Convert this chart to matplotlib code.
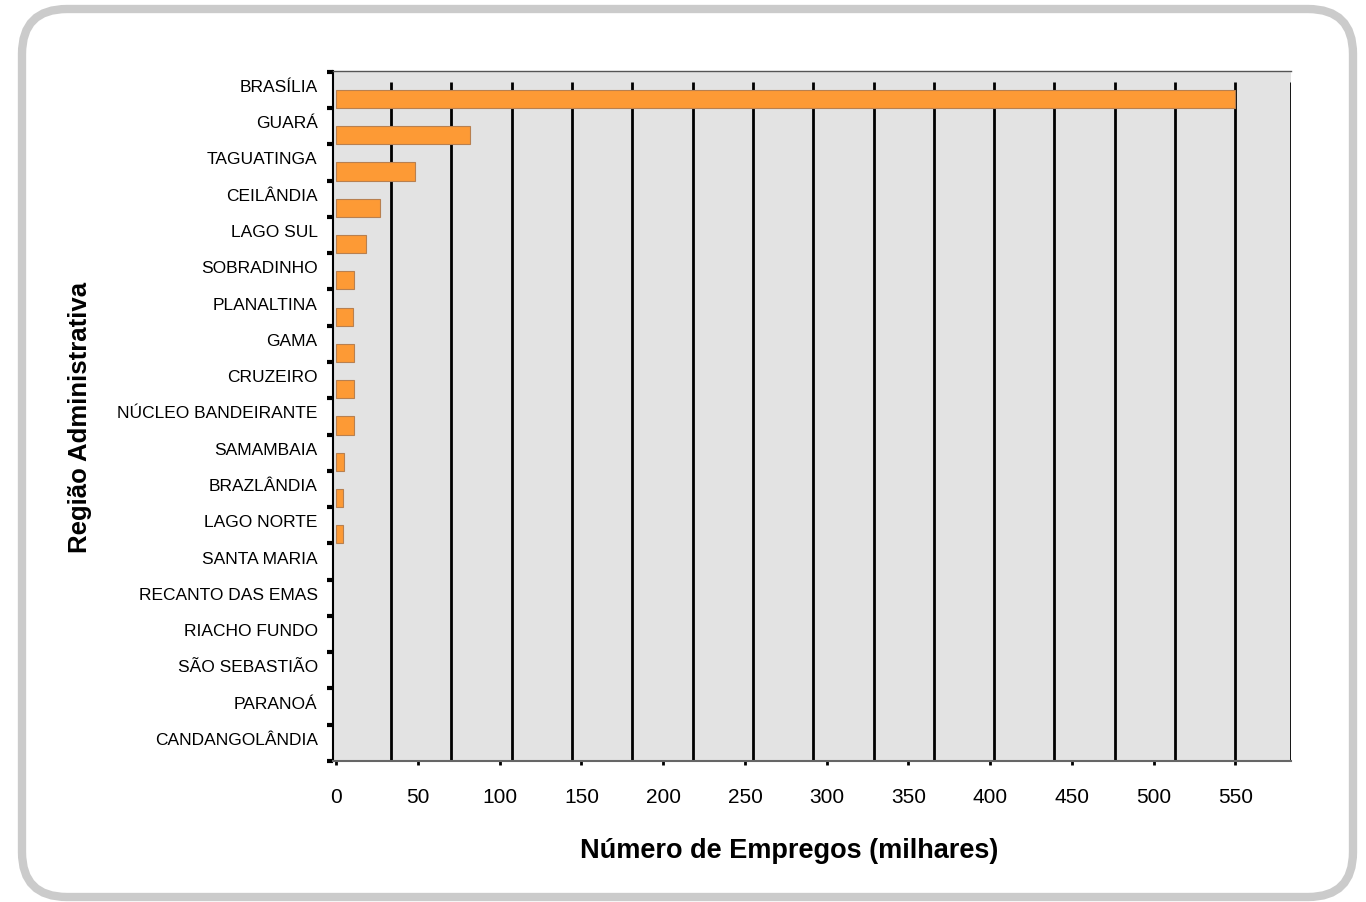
import numpy as np
import matplotlib
matplotlib.use("Agg")
import matplotlib.pyplot as plt
from matplotlib.patches import FancyBboxPatch
from matplotlib.transforms import ScaledTranslation

plt.rcParams['font.family'] = ['Liberation Sans', 'DejaVu Sans']

# 資料
regioes = ["BRASÍLIA", "GUARÁ", "TAGUATINGA", "CEILÂNDIA", "LAGO SUL",
           "SOBRADINHO", "PLANALTINA", "GAMA", "CRUZEIRO", "NÚCLEO BANDEIRANTE",
           "SAMAMBAIA", "BRAZLÂNDIA", "LAGO NORTE", "SANTA MARIA",
           "RECANTO DAS EMAS", "RIACHO FUNDO", "SÃO SEBASTIÃO", "PARANOÁ",
           "CANDANGOLÂNDIA"]
empregos = [550, 82, 48, 27, 18, 11, 10, 11, 11, 11, 5, 4, 4, 0, 0, 0, 0, 0, 0]
x_ticks = list(range(0, 551, 50))

fig = plt.figure(figsize=(13.66, 9.03), dpi=100)
fig.patch.set_facecolor('white')

# 外框 (圓角灰色)
frame = FancyBboxPatch((0.22, 0.05), 13.31, 8.88,
                       boxstyle="round,pad=0,rounding_size=0.45",
                       transform=fig.dpi_scale_trans, facecolor='none',
                       edgecolor='#cbcbcb', linewidth=6.0, zorder=-1)
fig.patches.append(frame)

ax = fig.add_axes([333 / 1366, 1 - 762 / 903, 958 / 1366, 690 / 903])
ax.set_facecolor('#e3e3e3')

y = np.arange(len(regioes))
# 數值為 0 的長條不畫邊框
edge_w = [0.8 if v > 0 else 0 for v in empregos]
ax.barh(y, empregos, height=0.5, color='#fd9a35', edgecolor='#b88050',
        linewidth=edge_w, zorder=3)

ax.set_xlim(-2, 584)
ax.set_ylim(18.25, -0.77)

# 垂直格線 (與刻度不對齊)
grid_x = np.linspace(33.5, 550, 15)
ax.vlines(list(grid_x) + [584], 0, 1 - 11 / 690, transform=ax.get_xaxis_transform(),
          colors='black', linewidth=2.0, zorder=2)

ax.set_xticks(x_ticks)
ax.set_xticklabels([str(v) for v in x_ticks], fontsize=15)
ax.tick_params(axis='x', length=3, width=2, color='black', pad=16)

ax.set_yticks(y)
ax.set_yticklabels(regioes, fontsize=12.5)
ax.tick_params(axis='y', which='major', length=0, pad=11)
ax.set_yticks(np.arange(-1, 19) + 0.25, minor=True)
ax.tick_params(axis='y', which='minor', length=4, width=3, color='black')
offset = ScaledTranslation(0, 0.14, fig.dpi_scale_trans)
for lbl in ax.get_yticklabels():
    lbl.set_transform(lbl.get_transform() + offset)

ax.spines['right'].set_visible(False)
ax.spines['top'].set_color('#555555')
ax.spines['top'].set_linewidth(1.0)
ax.spines['bottom'].set_color('#666666')
ax.spines['bottom'].set_linewidth(1.5)
ax.spines['left'].set_color('black')
ax.spines['left'].set_linewidth(1.5)

ax.set_xlabel('Número de Empregos (milhares)', fontsize=19.5, fontweight='bold')
ax.xaxis.set_label_coords((789 - 333) / 958, -(851 - 762) / 690)
ax.xaxis.label.set_va('center')
ax.set_ylabel('Região Administrativa', fontsize=18.5, fontweight='bold')
ax.yaxis.set_label_coords((80 - 333) / 958, 0.5)
ax.yaxis.label.set_va('center')

plt.savefig('out.png', dpi=100, facecolor='white')
